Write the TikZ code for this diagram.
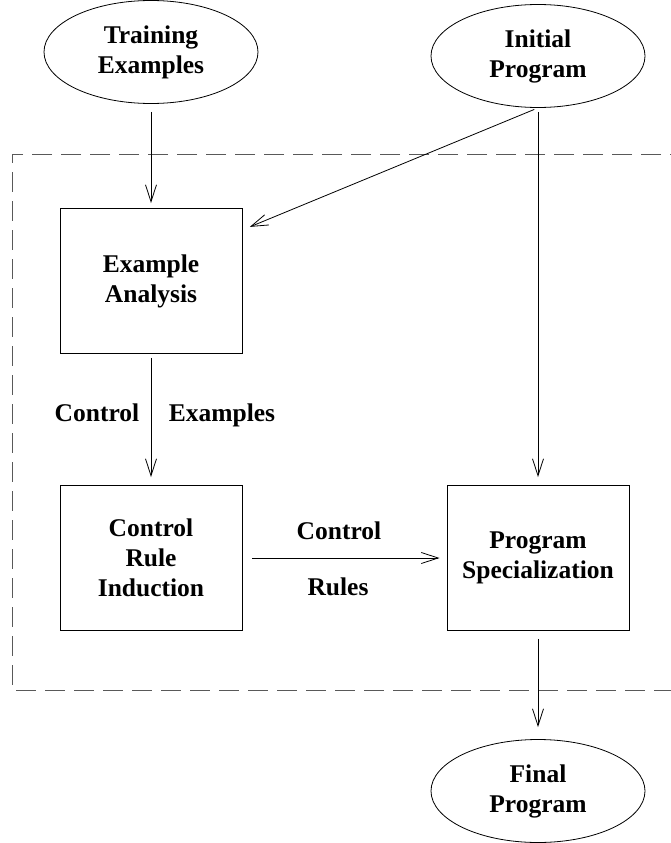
\documentclass[tikz,border=0pt]{standalone}
\usepackage{fontspec}
\setmainfont{Liberation Serif}
\usepackage{tikz}
\usetikzlibrary{arrows.meta,shapes.geometric,calc}

\newcommand{\boxfont}{\bfseries\fontsize{25.5}{30}\selectfont}

\tikzset{
	oval/.style={draw, ellipse, line width=0.8pt, minimum width=214pt, minimum height=103pt, inner sep=0pt, align=center, font=\boxfont},
	stage/.style={draw, rectangle, line width=0.9pt, minimum width=182pt, minimum height=145pt, inner sep=0pt, align=center, font=\boxfont},
	lbl/.style={anchor=base, inner sep=0pt, font=\boxfont},
	flow/.style={-{Straight Barb[length=17pt,width=11pt]}, line width=0.8pt},
	frame/.style={black!65, line width=0.9pt, dash pattern=on 20pt off 9pt}
}

\begin{document}
\begin{tikzpicture}[x=1pt,y=-1pt]
			\useasboundingbox (0,0) rectangle (670,843);
			
			% outer dashed frame, open to the right
			\draw [frame] (690,154) -| (12,690) -- (690,690);
			
			\node[oval] (train) at (151,52) {Training\\Examples};
			\node[oval] (init) at (538,56) {Initial\\Program};
			
			\node[stage] (exa) at (151,281) {Example\\Analysis};
			\node[stage] (cri) at (151,558) {Control\\Rule\\Induction};
			\node[stage] (spec) at (538,558) {Program\\Specialization};
			
			\node[oval] (final) at (538,791) {Final\\Program};
			
			\draw [flow, shorten <=8pt, shorten >=5pt] (train) -- (exa);
			\draw [flow, shorten <=4pt, shorten >=8pt] (init.south) -- ($(exa.north east)!0.15!(exa.south east)$);
			\draw [flow, shorten <=4pt, shorten >=8pt] (init) -- (spec);
			\draw [flow, shorten <=4pt, shorten >=8pt] (exa) -- (cri);
			\draw [flow, shorten <=10pt, shorten >=7pt] (cri) -- (spec);
			\draw [flow, shorten <=8pt, shorten >=12pt] (spec) -- (final);
			
			\node[lbl] (ctlex) at (97,421) {Control};
			\node[lbl] (exlbl) at (222,421) {Examples};
			\node[lbl] (ctlru) at (339,539) {Control};
			\node[lbl] (rulbl) at (338,595) {Rules};
		\end{tikzpicture}
\end{document}
